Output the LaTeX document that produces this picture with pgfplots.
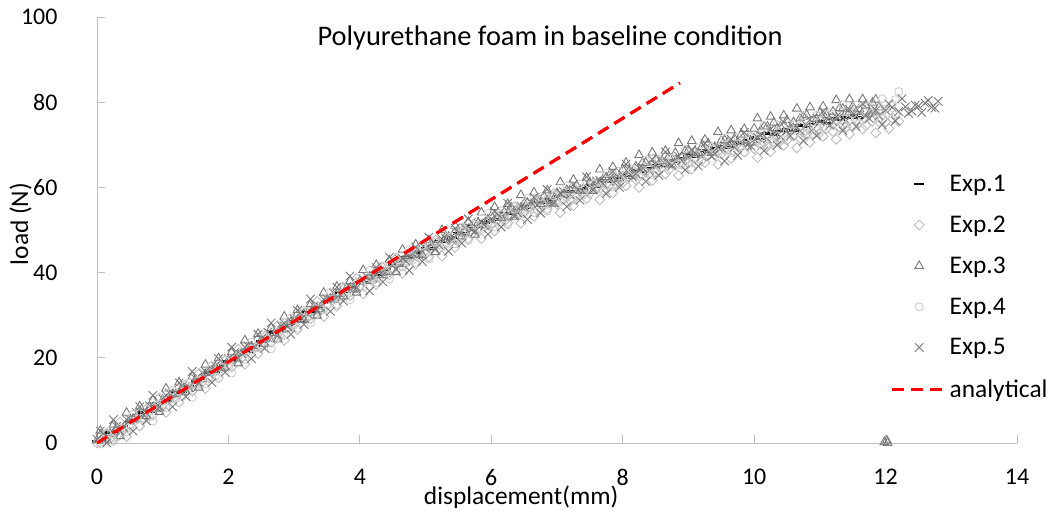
\documentclass[border=0pt]{standalone}
\usepackage{pgfplots}
\pgfplotsset{compat=1.18}
\usepackage{pgfplotstable}
\usepackage{fontspec}
\setmainfont{Carlito}
\definecolor{axgray}{HTML}{BFBFBF}
\definecolor{cA}{HTML}{000000}
\definecolor{cB}{HTML}{BDBDBD}
\definecolor{cC}{HTML}{7A7A7A}
\definecolor{cD}{HTML}{CDCDCD}
\definecolor{cE}{HTML}{7A7A7A}
\pgfplotstableread{
x e1 e2 e3 e4 e5
0.0 0.3 0.0 0.6 0.0 0.9
0.1 0.5 1.1 0.7 0.8 2.3
0.2 2.4 1.1 2.2 1.1 2.1
0.3 2.6 2.8 3.6 1.4 3.9
0.4 3.9 3.5 3.3 3.5 3.7
0.5 5.0 4.2 5.3 3.6 5.6
0.6 5.3 5.9 5.5 5.6 7.1
0.7 7.1 5.8 6.9 5.8 6.8
0.8 7.4 7.6 8.4 6.2 8.7
0.9 8.6 8.2 8.0 8.2 8.4
1.0 9.8 9.0 10.1 8.4 10.4
1.1 10.0 10.6 10.2 10.3 11.8
1.2 11.8 10.5 11.6 10.5 11.5
1.3 12.1 12.3 13.1 10.9 13.4
1.4 13.3 12.9 12.7 12.9 13.1
1.5 14.5 13.7 14.8 13.1 15.1
1.6 14.7 15.3 14.9 15.0 16.5
1.7 16.6 15.3 16.4 15.3 16.3
1.8 16.8 17.0 17.8 15.6 18.1
1.9 18.1 17.7 17.5 17.7 17.9
2.0 19.2 18.4 19.5 17.8 19.8
2.1 19.5 20.1 19.7 19.8 21.3
2.2 21.3 20.0 21.1 20.0 21.0
2.3 21.5 21.7 22.5 20.3 22.8
2.4 22.8 22.4 22.2 22.4 22.6
2.5 23.9 23.1 24.2 22.5 24.5
2.6 24.2 24.8 24.4 24.5 26.0
2.7 26.0 24.7 25.8 24.7 25.7
2.8 26.2 26.4 27.2 25.0 27.5
2.9 27.5 27.1 26.9 27.1 27.3
3.0 28.6 27.8 28.9 27.7 29.2
3.1 28.8 29.4 29.0 29.6 30.6
3.2 30.7 29.4 30.5 29.9 30.4
3.3 30.9 31.1 31.9 30.2 32.2
3.4 32.1 31.7 31.5 32.2 31.9
3.5 33.2 32.4 33.5 32.3 33.8
3.6 33.4 34.0 33.6 34.2 35.2
3.7 35.2 33.9 35.0 34.4 34.9
3.8 35.4 35.6 36.4 34.7 36.7
3.9 36.6 36.2 36.0 36.7 36.4
4.0 37.7 36.9 38.0 36.8 37.8
4.1 37.8 38.4 38.0 38.6 39.1
4.2 39.5 38.2 39.3 38.7 38.7
4.3 39.6 39.8 40.6 38.9 40.4
4.4 40.7 40.3 40.1 40.8 40.0
4.5 41.7 40.9 42.0 40.8 41.8
4.6 41.8 42.4 42.0 42.6 43.1
4.7 43.5 42.2 43.3 42.7 42.7
4.8 43.6 43.8 44.6 42.9 44.4
4.9 44.7 44.3 44.1 44.8 44.0
5.0 45.6 44.3 45.9 44.7 45.7
5.1 45.7 45.8 45.9 46.5 47.0
5.2 47.3 45.5 47.1 46.5 46.5
5.3 47.3 47.0 48.3 46.6 48.1
5.4 48.3 47.4 47.7 48.4 47.6
5.5 49.2 47.9 49.5 48.3 49.3
5.6 49.2 49.3 49.4 50.0 50.5
5.7 50.8 49.0 50.6 50.0 50.0
5.8 50.7 50.4 51.7 50.0 51.5
5.9 51.7 50.8 51.1 51.8 51.0
6.0 52.5 51.2 53.3 51.6 52.6
6.1 52.4 52.5 53.1 53.2 53.7
6.2 53.9 52.1 54.2 53.1 53.1
6.3 53.8 53.5 55.3 53.1 54.6
6.4 54.7 53.8 54.6 54.8 54.0
6.5 55.4 54.1 56.2 54.5 55.5
6.6 55.2 55.3 55.9 56.0 56.5
6.7 56.6 54.8 56.9 55.8 55.8
6.8 56.4 56.1 57.9 55.7 57.2
6.9 57.2 56.3 57.1 57.3 56.5
7.0 57.9 56.1 58.7 57.0 58.0
7.1 57.7 57.3 58.4 58.5 59.0
7.2 59.1 56.8 59.4 58.3 58.3
7.3 58.9 58.1 60.4 58.2 59.7
7.4 59.7 58.3 59.6 59.8 59.0
7.5 60.4 58.6 61.2 59.5 60.5
7.6 60.2 59.8 60.9 61.0 61.5
7.7 61.6 59.3 61.9 60.8 60.8
7.8 61.4 60.6 62.9 60.7 62.2
7.9 62.2 60.8 62.1 62.3 61.5
8.0 62.9 61.1 64.2 62.0 63.0
8.1 62.7 62.3 63.9 63.5 64.0
8.2 64.1 61.8 64.9 63.3 63.3
8.3 63.8 63.0 65.8 63.1 64.6
8.4 64.6 63.2 65.0 64.7 63.9
8.5 65.3 63.5 66.6 64.4 65.4
8.6 65.0 64.6 66.2 65.8 66.3
8.7 66.4 64.1 67.2 65.6 65.6
8.8 66.1 65.3 68.1 65.4 66.9
8.9 66.9 65.5 67.3 67.0 66.2
9.0 67.5 65.7 68.8 66.6 67.1
9.1 67.3 66.9 68.5 68.1 68.1
9.2 68.6 66.3 69.4 67.8 67.3
9.3 68.3 67.5 70.3 67.6 68.6
9.4 69.1 67.7 69.5 69.2 67.9
9.5 69.7 67.9 71.0 68.8 69.3
9.6 69.4 69.0 70.6 70.2 70.2
9.7 70.7 68.4 71.5 69.9 69.4
9.8 70.4 69.6 72.4 69.7 70.7
9.9 71.1 69.7 71.5 71.2 69.9
10.0 71.7 69.1 73.8 71.3 71.3
10.1 71.4 70.2 73.4 72.7 72.2
10.2 72.7 69.6 74.3 72.4 71.4
10.3 72.4 70.8 75.2 72.2 72.7
10.4 73.1 70.9 74.3 73.7 71.9
10.5 73.7 71.1 75.8 73.3 73.3
10.6 73.3 72.1 75.3 74.6 74.1
10.7 74.6 71.5 76.2 74.3 73.3
10.8 74.2 72.6 77.0 74.0 74.5
10.9 74.9 72.7 76.1 75.5 73.7
11.0 75.4 72.8 77.5 75.7 75.5
11.1 75.0 73.8 77.0 77.0 76.3
11.2 76.2 73.1 77.8 76.6 75.4
11.3 75.8 74.2 78.6 76.3 76.6
11.4 76.4 74.2 77.6 77.7 75.7
11.5 76.9 74.3 79.0 77.2 77.0
11.6 76.4 75.2 78.4 78.4 77.7
11.7 nan 74.5 79.2 78.0 76.8
11.8 nan 75.5 79.9 77.6 77.9
11.9 nan 75.4 78.8 78.9 76.9
12.0 nan 75.4 nan 78.3 78.1
12.1 nan 76.3 nan 79.5 78.8
12.2 nan 75.5 nan 82.5 77.8
12.3 nan nan nan nan 78.9
12.4 nan nan nan nan 77.9
12.5 nan nan nan nan 79.1
12.6 nan nan nan nan 79.8
12.7 nan nan nan nan 78.8
12.8 nan nan nan nan 80.2
}\expdataA
\pgfplotstableread{
x e2 e3 e4 e5
0.05 0.0 2.9 0.0 2.8
0.15 2.3 0.6 2.3 0.0
0.25 0.9 4.3 0.4 5.5
0.35 4.9 1.6 3.4 2.8
0.45 1.5 7.1 2.6 5.5
0.55 5.5 5.7 6.7 2.8
0.65 4.0 8.6 3.9 8.5
0.75 8.0 6.3 8.0 5.2
0.85 6.6 10.0 5.1 11.2
0.95 10.6 7.3 9.1 8.5
1.05 7.2 12.8 8.3 11.2
1.15 11.2 11.4 12.4 8.5
1.25 9.6 14.2 9.5 14.1
1.35 13.7 12.0 13.7 10.9
1.45 12.2 15.6 10.7 16.8
1.55 16.3 13.0 14.8 14.2
1.65 12.8 18.4 13.9 16.8
1.75 16.9 17.1 18.1 14.2
1.85 15.3 19.9 15.2 19.8
1.95 19.4 17.7 19.4 16.6
2.05 17.9 21.3 16.4 22.5
2.15 22.0 18.7 20.5 19.9
2.25 18.5 24.1 19.6 22.5
2.35 22.5 22.7 23.7 19.8
2.45 21.0 25.6 20.9 25.5
2.55 25.0 23.3 25.0 22.2
2.65 23.6 27.0 22.1 28.2
2.75 27.6 24.3 26.1 25.5
2.85 24.1 29.7 25.2 28.1
2.95 28.2 28.4 29.4 25.5
3.05 26.6 31.2 27.0 31.1
3.15 30.6 28.9 31.1 27.8
3.25 29.2 32.6 28.2 33.8
3.35 33.2 29.9 32.2 31.1
3.45 29.7 35.3 31.3 33.7
3.55 33.7 33.9 35.4 30.9
3.65 32.1 36.7 32.5 36.6
3.75 36.1 34.4 36.6 33.3
3.85 34.6 38.0 33.6 39.2
3.95 38.6 35.3 37.6 36.5
4.05 35.0 40.6 36.6 38.5
4.15 38.9 39.1 40.6 35.7
4.25 37.2 41.8 37.6 41.2
4.35 41.1 39.4 41.6 37.8
4.45 39.5 42.9 38.5 43.6
4.55 43.4 40.1 42.4 40.8
4.65 39.8 45.4 41.4 43.3
4.75 43.7 43.9 45.4 40.5
4.85 42.0 46.6 42.4 46.0
4.95 45.9 44.2 46.4 42.6
5.05 43.7 47.6 43.2 48.3
5.15 47.6 44.8 47.1 45.5
5.25 43.9 50.0 46.0 47.9
5.35 47.7 48.4 49.9 45.0
5.45 45.9 51.0 46.8 50.4
5.55 49.7 48.5 50.7 46.9
5.65 48.0 51.9 47.5 52.6
5.75 51.7 48.9 51.2 49.6
5.85 48.0 54.1 50.1 52.0
5.95 51.7 52.4 53.9 49.0
6.05 49.8 55.4 50.7 54.3
6.15 53.5 52.8 54.5 50.7
6.25 51.7 56.1 51.2 56.3
6.35 55.4 53.1 54.9 53.3
6.45 51.6 58.2 53.7 55.6
6.55 55.2 56.4 57.4 52.5
6.65 53.2 58.8 54.1 57.7
6.75 56.8 56.1 57.8 54.0
6.85 54.9 59.3 54.4 59.5
6.95 58.5 56.2 58.0 56.4
7.05 54.1 61.2 56.7 58.6
7.15 57.7 59.4 60.4 55.5
7.25 55.7 61.8 57.1 60.7
7.35 59.3 59.1 60.8 57.0
7.45 57.4 62.3 57.4 62.5
7.55 61.0 59.2 61.0 59.4
7.65 57.1 64.2 59.7 61.6
7.75 60.7 62.4 63.4 58.5
7.85 58.7 64.8 60.1 63.7
7.95 62.3 62.1 63.8 60.0
8.05 60.4 65.8 60.4 65.5
8.15 64.0 62.7 64.0 62.4
8.25 60.0 67.6 62.6 64.5
8.35 63.6 65.8 66.3 61.4
8.45 61.6 68.2 63.0 66.6
8.55 65.1 65.4 66.6 62.8
8.65 63.2 68.6 63.2 68.3
8.75 66.7 65.4 66.7 65.1
8.85 62.8 70.4 65.4 67.3
8.95 66.3 68.5 69.0 64.1
9.05 64.3 70.9 65.7 68.8
9.15 67.8 68.1 69.3 65.0
9.25 65.8 71.2 65.8 70.4
9.35 69.4 68.1 69.4 67.3
9.45 65.4 73.0 68.0 69.4
9.55 68.9 71.1 71.6 66.2
9.65 66.8 73.4 68.2 71.3
9.75 70.3 70.6 71.8 67.5
9.85 68.3 73.7 68.3 72.9
9.95 71.8 70.5 71.8 69.7
10.05 67.0 76.2 70.9 71.8
10.15 70.5 74.3 74.5 68.6
10.25 68.4 76.6 71.1 73.7
10.35 71.9 73.8 74.7 69.9
10.45 69.9 76.9 71.2 75.3
10.55 73.4 73.7 74.7 72.1
10.65 69.3 78.5 73.2 74.1
10.75 72.8 76.6 76.8 70.9
10.85 70.6 78.8 73.3 75.9
10.95 74.1 76.0 76.9 72.1
11.05 72.0 79.0 74.0 77.9
11.15 75.4 75.7 77.4 74.6
11.25 71.3 80.5 75.9 76.6
11.35 74.7 78.5 79.4 73.3
11.45 72.5 80.7 75.9 78.3
11.55 75.8 77.7 79.3 74.3
11.65 73.7 80.7 75.7 79.6
11.75 77.0 77.3 79.0 76.2
11.85 72.8 80.6 77.4 78.1
11.95 76.1 nan 80.8 74.7
12.05 73.8 nan 77.2 79.6
12.15 77.1 nan 80.6 75.6
12.25 nan nan nan 80.8
12.35 nan nan nan 77.4
12.45 nan nan nan 79.3
12.55 nan nan nan 77.6
12.65 nan nan nan 80.4
12.75 nan nan nan 78.6
}\expdataB
\begin{document}
\begin{tikzpicture}
\useasboundingbox (-97bp,-73bp) rectangle (956bp,443bp);
\begin{axis}[
  scale only axis,
  width=920bp, height=426bp,
  xmin=0, xmax=14, ymin=0, ymax=100,
  xtick={0,2,...,14}, ytick={0,20,...,100},
  axis lines=left,
  axis line style={-, draw=axgray, line width=0.9bp},
  tick style={draw=axgray, line width=0.9bp},
  tick align=inside,
  major tick length=8bp,
  clip=false,
  clip marker paths=true,
  /pgf/number format/assume math mode=true,
  ticklabel style={font=\fontsize{24}{28}\selectfont},
  yticklabel style={xshift=-36bp},
  xticklabel style={inner sep=0pt, yshift=-26bp},
  every axis title shift=0pt,
  title={Polyurethane foam in baseline condition},
  title style={at={(axis description cs:0.4925,0.934)}, anchor=base, font=\fontsize{28.5}{32}\selectfont},
  xlabel={displacement(mm)},
  xlabel style={at={(axis description cs:0.461,-0.1432)}, anchor=base, inner sep=0pt, font=\fontsize{25.5}{30}\selectfont},
  ylabel={load (N)},
  ylabel style={at={(axis description cs:-0.075,0.514)}, anchor=base, font=\fontsize{25.5}{30}\selectfont},
  legend style={at={(axis description cs:0.8625,0.634)}, anchor=north west, draw=none, fill=none, inner sep=0pt,
    font=\fontsize{25.5}{30}\selectfont, row sep=19bp},
  legend cell align=left,
  legend image code/.code={\draw[mark repeat=2,mark phase=2,#1] plot coordinates {(0bp,0bp) (27bp,0bp) (54bp,0bp)};},
]
\addplot[only marks, mark=-, mark size=5bp, color=cA, mark options={line width=2.6bp}] table[x=x,y=e1] {\expdataA};
\addlegendentry{Exp.1}
\addplot[only marks, mark=square, mark size=3.5bp, color=cB, mark options={rotate=45, line width=0.9bp}] table[x=x,y=e2] {\expdataA};
\addlegendentry{Exp.2}
\addplot[only marks, mark=triangle, mark size=5bp, color=cC, mark options={line width=0.9bp}] table[x=x,y=e3] {\expdataA};
\addlegendentry{Exp.3}
\addplot[only marks, mark=o, mark size=4bp, color=cD, mark options={line width=0.9bp}] table[x=x,y=e4] {\expdataA};
\addlegendentry{Exp.4}
\addplot[only marks, mark=x, mark size=6bp, color=cE, mark options={line width=0.9bp}] table[x=x,y=e5] {\expdataA};
\addlegendentry{Exp.5}
\addplot[red, line width=3bp, dash pattern=on 12bp off 7bp] coordinates {(0,0) (8.87,84.5)};
\addlegendentry{analytical}
\addplot[only marks, mark=square, mark size=3.5bp, color=cB, mark options={rotate=45, line width=0.9bp}, forget plot] table[x=x,y=e2] {\expdataB};
\addplot[only marks, mark=triangle, mark size=5bp, color=cC, mark options={line width=0.9bp}, forget plot] table[x=x,y=e3] {\expdataB};
\addplot[only marks, mark=o, mark size=4bp, color=cD, mark options={line width=0.9bp}, forget plot] table[x=x,y=e4] {\expdataB};
\addplot[only marks, mark=x, mark size=6bp, color=cE, mark options={line width=0.9bp}, forget plot] table[x=x,y=e5] {\expdataB};
\addplot[only marks, mark=triangle, mark size=5bp, color=cC, mark options={line width=0.9bp}, forget plot] coordinates {(11.98,0.2) (12.02,0.6) (12.03,0.0)};
\addplot[red, line width=3bp, dash pattern=on 12bp off 7bp, forget plot] coordinates {(0,0) (8.87,84.5)};
\end{axis}
\end{tikzpicture}
\end{document}
